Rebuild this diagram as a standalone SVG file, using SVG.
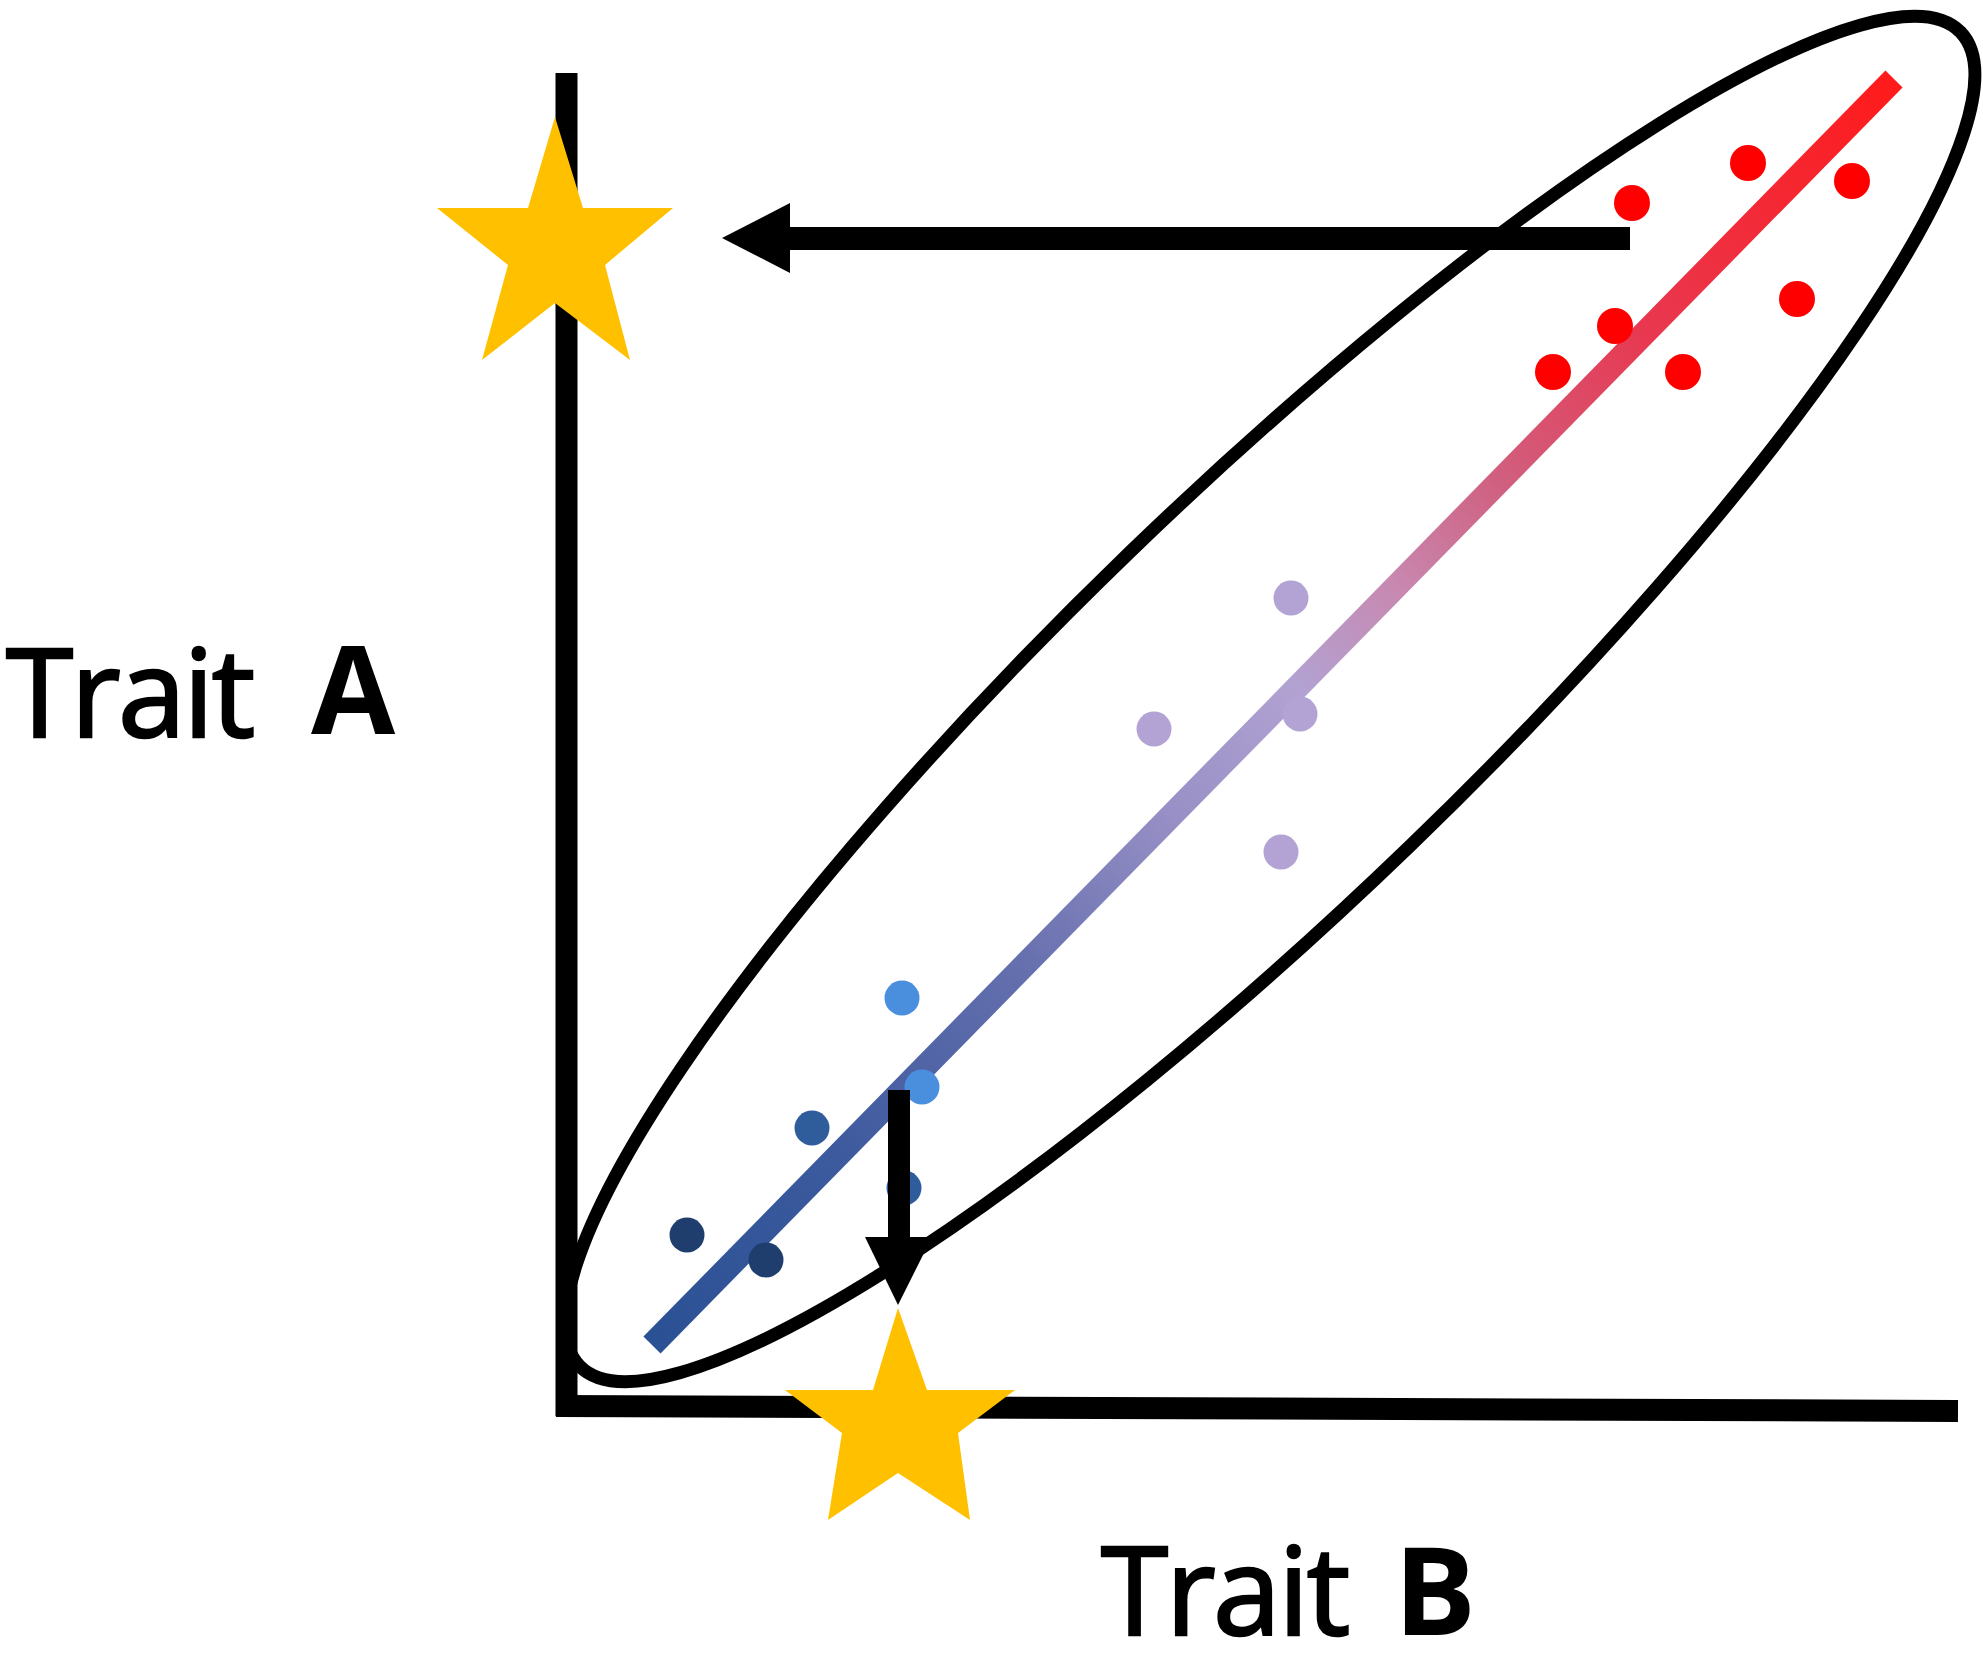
<svg xmlns="http://www.w3.org/2000/svg" width="1983" height="1653" viewBox="0 0 1983 1653">
<style>
.axis{stroke:#000;stroke-width:22;fill:none}
.ell{fill:none;stroke:#000;stroke-width:13}
.star{fill:#FFC000}
.red{fill:#FF0000}
.lav{fill:#B2A3D4}
.lb{fill:#4A8FDD}
.mb{fill:#2F5D9C}
.db{fill:#1F3E6E}
.lbl{font-family:"Open Sans","Noto Sans",sans-serif;font-size:122px;fill:#000;stroke:#000;stroke-width:2.5px;letter-spacing:-2.5px}
.bold{font-weight:700;letter-spacing:0;stroke-width:0}
.arr{fill:#000}
</style>
<defs>
<linearGradient id="reg" gradientUnits="userSpaceOnUse" x1="652" y1="1345" x2="1894" y2="79">
<stop offset="0" stop-color="#2A5194"/>
<stop offset="0.15" stop-color="#3D5A9E"/>
<stop offset="0.3" stop-color="#6670AE"/>
<stop offset="0.42" stop-color="#9890C6"/>
<stop offset="0.52" stop-color="#B2A2D2"/>
<stop offset="0.6" stop-color="#C888B0"/>
<stop offset="0.68" stop-color="#D06080"/>
<stop offset="0.8" stop-color="#E83850"/>
<stop offset="1" stop-color="#FF1A1A"/>
</linearGradient>
</defs>
<rect width="1983" height="1653" fill="#fff"/>
<g id="ellipse">
<ellipse class="ell" cx="1270" cy="699" rx="960" ry="203" transform="rotate(-44 1270 699)"/>
</g>
<g id="axes">
<line class="axis" x1="566.5" y1="73" x2="566.5" y2="1416"/>
<line class="axis" x1="556" y1="1406" x2="1958" y2="1411"/>
</g>
<g id="regression-line">
<line x1="652" y1="1345" x2="1894" y2="79" stroke="url(#reg)" stroke-width="24"/>
</g>
<g id="points">
<circle class="red" cx="1632" cy="203" r="18"/>
<circle class="red" cx="1748" cy="163" r="18"/>
<circle class="red" cx="1852" cy="181" r="18"/>
<circle class="red" cx="1797" cy="299" r="18"/>
<circle class="red" cx="1615" cy="326" r="18"/>
<circle class="red" cx="1553" cy="372" r="18"/>
<circle class="red" cx="1683" cy="372" r="18"/>
<circle class="lav" cx="1291" cy="598" r="17.5"/>
<circle class="lav" cx="1154" cy="729" r="17.5"/>
<circle class="lav" cx="1300" cy="714" r="17.5"/>
<circle class="lav" cx="1281" cy="852" r="17.5"/>
<circle class="lb" cx="902" cy="998" r="17.5"/>
<circle class="lb" cx="922" cy="1087" r="17.5"/>
<circle class="mb" cx="812" cy="1128" r="17.5"/>
<circle class="mb" cx="904" cy="1188" r="17.5"/>
<circle class="db" cx="687" cy="1235" r="17.5"/>
<circle class="db" cx="766" cy="1260" r="17.5"/>
</g>
<g id="star-a">
<polygon class="star" points="555,117 583,208 673,208 605,265 630,360 555,303 482,360 508,265 437,208 528,208"/>
</g>
<g id="star-b">
<polygon class="star" points="898,1308 927,1390 1015,1390 958,1433 970,1520 898,1473 828,1520 842,1433 785,1390 873,1390"/>
</g>
<g id="connectors">
<rect class="arr" x="788" y="227" width="842" height="23"/>
<polygon class="arr" points="722,238 790,203 790,273"/>
<rect class="arr" x="888" y="1090" width="22" height="150"/>
<polygon class="arr" points="865,1237 932,1237 898,1305"/>
</g>
<g id="label-a">
<text class="lbl" x="6" y="737">Trait</text>
<text class="lbl bold" x="311" y="734">A</text>
</g>
<g id="label-b">
<text class="lbl" x="1101" y="1635">Trait</text>
<text class="lbl bold" x="1394" y="1635">B</text>
</g>
</svg>
